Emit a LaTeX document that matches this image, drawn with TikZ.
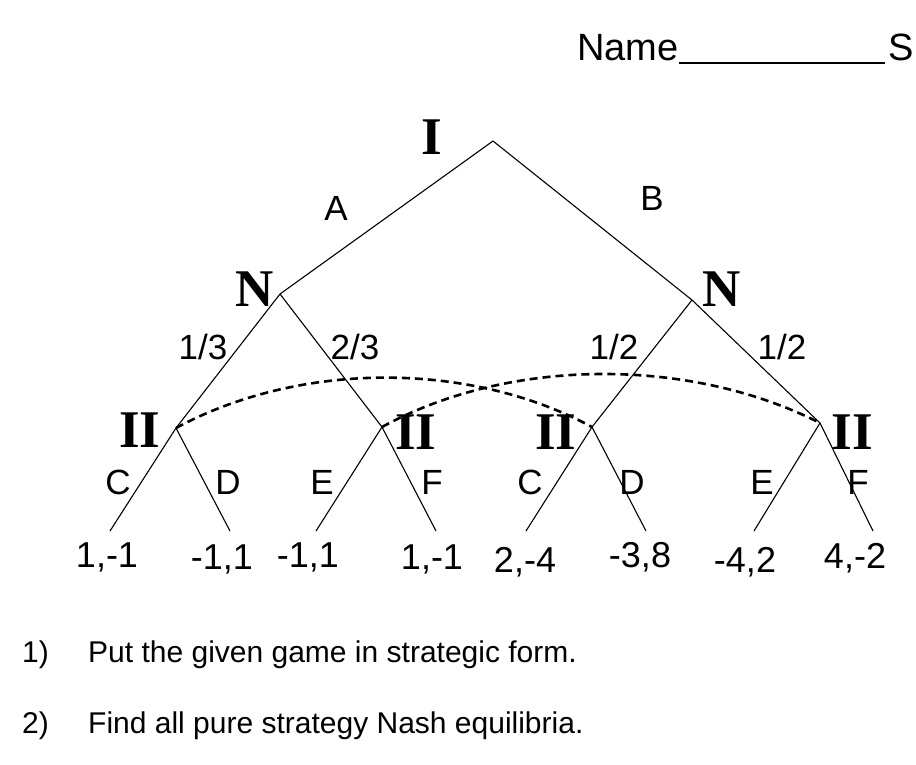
\documentclass[tikz,border=0pt]{standalone}
\usepackage{fontspec}
\setmainfont{Liberation Sans}
\newfontfamily\serifb{Liberation Serif}[BoldFont={Liberation Serif Bold}]
\begin{document}
\begin{tikzpicture}[x=1pt,y=-1pt,
  edge/.style={line width=1.1pt},
  info/.style={line width=2.6pt,dash pattern=on 8pt off 5pt},
  player/.style={font=\serifb\bfseries\fontsize{53}{53}\selectfont, inner sep=0pt},
  lab/.style={font=\fontsize{35}{35}\selectfont, inner sep=0pt},
  pay/.style={font=\fontsize{36}{36}\selectfont, inner sep=0pt},
  txt/.style={font=\fontsize{30}{30}\selectfont, inner sep=0pt, anchor=base west}]
\useasboundingbox (0,0) rectangle (916,764);
% decision points
\coordinate (r) at (493,141);
\coordinate (nl) at (280,294);
\coordinate (nr) at (692,300);
\coordinate (i1) at (176,428);
\coordinate (i2) at (382,427);
\coordinate (i3) at (592,427);
\coordinate (i4) at (820,423);
\foreach \n/\x in {l1/110,l2/230,l3/316,l4/436,l5/526,l6/646,l7/754,l8/873}
  \coordinate (\n) at (\x,531);
% edges
\draw[edge] (r) -- (nl);
\draw[edge] (r) -- (nr);
\draw[edge] (nl) -- (i1);
\draw[edge] (nl) -- (i2);
\draw[edge] (nr) -- (i3);
\draw[edge] (nr) -- (i4);
\draw[edge] (i1) -- (l1); \draw[edge] (i1) -- (l2);
\draw[edge] (i2) -- (l3); \draw[edge] (i2) -- (l4);
\draw[edge] (i3) -- (l5); \draw[edge] (i3) -- (l6);
\draw[edge] (i4) -- (l7); \draw[edge] (i4) -- (l8);
% information sets
\draw[info] (i1) .. controls (300,361) and (470,361) .. (i3);
\draw[info] (i2) .. controls (510,357) and (690,357) .. (i4);
% players
\node[player] (pI) at (432,137) {I};
\node[player] (pNl) at (255,289) {N};
\node[player] (pNr) at (722,289) {N};
\node[player] (pII1) at (140,430) {II};
\node[player] (pII2) at (416,432) {II};
\node[player] (pII3) at (556,432) {II};
\node[player] (pII4) at (852,432) {II};
% action labels
\node[lab] (la) at (336,208) {A};
\node[lab] (lb) at (652,198) {B};
\node[lab] (p1) at (203,347) {1/3};
\node[lab] (p2) at (355,347) {2/3};
\node[lab] (p3) at (614,347) {1/2};
\node[lab] (p4) at (782,347) {1/2};
\node[lab] (c1) at (118,482) {C};
\node[lab] (d1) at (228,482) {D};
\node[lab] (e1) at (322,482) {E};
\node[lab] (f1) at (432,482) {F};
\node[lab] (c2) at (530,482) {C};
\node[lab] (d2) at (632,482) {D};
\node[lab] (e2) at (762,482) {E};
\node[lab] (f2) at (858,482) {F};
% payoffs
\node[pay] (o1) at (107,557) {1,-1};
\node[pay] (o2) at (222,559) {-1,1};
\node[pay] (o3) at (308,557) {-1,1};
\node[pay] (o4) at (432,559) {1,-1};
\node[pay] (o5) at (525,562) {2,-4};
\node[pay] (o6) at (640,557) {-3,8};
\node[pay] (o7) at (745,562) {-4,2};
\node[pay] (o8) at (855,558) {4,-2};
% header
\node[txt, font=\fontsize{38}{38}\selectfont] (name) at (577,60) {Name\rule[-4pt]{206pt}{2.2pt}\hspace{4pt}S};
% questions
\node[txt] (q1n) at (22,662) {1)};
\node[txt] (q1) at (88,662) {Put the given game in strategic form.};
\node[txt] (q2n) at (22,733) {2)};
\node[txt] (q2) at (88,733) {Find all pure strategy Nash equilibria.};
\end{tikzpicture}
\end{document}
